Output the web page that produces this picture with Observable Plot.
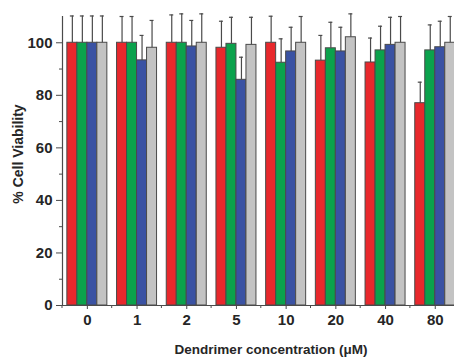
<!DOCTYPE html>
<html>
<head>
<meta charset="utf-8">
<script src="https://cdn.jsdelivr.net/npm/d3@7"></script>
<script src="https://cdn.jsdelivr.net/npm/@observablehq/plot@0.6"></script>
<style>
  html, body { margin: 0; padding: 0; background: white; }
</style>
</head>
<body>
<div id="chart"></div>
<script>
const groups = ["0", "1", "2", "5", "10", "20", "40", "80"];
const series = ["A", "B", "C", "D"];
const colors = ["#e8282c", "#0ba24c", "#3a52a3", "#c3c3c3"];

const valuesA = [100, 100, 100, 98.1, 100, 93.2, 92.5, 77.0];
const valuesB = [100, 100, 100, 99.6, 92.4, 97.9, 97.1, 97.1];
const valuesC = [100, 93.3, 98.6, 85.9, 96.7, 96.7, 99.2, 98.3];
const valuesD = [100, 98.1, 100, 99.2, 100, 102.1, 100, 100];

const errA = [10.2, 10.0, 10.6, 10.1, 10.1, 9.6, 9.3, 8.0];
const errB = [10.2, 10.0, 11.0, 10.1, 9.1, 9.9, 9.2, 9.7];
const errC = [10.2, 9.5, 9.9, 8.6, 9.2, 9.2, 10.5, 9.9];
const errD = [10.2, 10.4, 11.0, 10.5, 10.0, 8.9, 10.0, 10.0];

const yMajor = [0, 20, 40, 60, 80, 100];
const yMinor = [10, 30, 50, 70, 90];

const xTitle = "Dendrimer concentration (μM)";
const yTitle = "% Cell Viability";

const allValues = [valuesA, valuesB, valuesC, valuesD];
const allErr = [errA, errB, errC, errD];
const rows = [];
groups.forEach((g, gi) => {
  series.forEach((s, si) => {
    rows.push({group: g, series: s, value: allValues[si][gi], err: allErr[si][gi]});
  });
});

const ink = "#4a4a4a";

const minorXTick = (index, scales, values, dimensions) => {
  const y0 = scales.y(0);
  const line = d3.create("svg:line")
    .attr("x1", dimensions.marginLeft)
    .attr("x2", dimensions.marginLeft)
    .attr("y1", y0)
    .attr("y2", y0 + 3)
    .attr("stroke", ink);
  return line.node();
};

const plot = Plot.plot({
  width: 454,
  height: 358,
  marginLeft: 62,
  marginRight: 0,
  marginTop: 16,
  marginBottom: 53,
  style: {
    fontFamily: "'Liberation Sans', Arial, sans-serif",
    fontSize: "15px",
    fontWeight: "bold",
    color: "#262626",
    background: "white"
  },
  fx: {domain: groups, padding: 0, round: false, range: [62, 459.6], label: null},
  x: {domain: series, paddingInner: 0, paddingOuter: 0.485, round: false, axis: null},
  y: {domain: [0, 110], axis: null},
  color: {domain: series, range: colors},
  marks: [
    Plot.barY(rows, {fx: "group", x: "series", y: "value", fill: "series", stroke: ink, strokeWidth: 1}),
    Plot.ruleX(rows, {fx: "group", x: "series", y1: "value", y2: d => d.value + d.err, stroke: ink, strokeWidth: 1.2}),
    Plot.tickY(rows, {fx: "group", x: "series", y: d => d.value + d.err, stroke: ink, strokeWidth: 1.2, insetLeft: 3, insetRight: 3}),
    Plot.ruleY([0], {stroke: ink, strokeWidth: 1.2}),
    minorXTick,
    Plot.frame({anchor: "left", facetAnchor: "left", stroke: ink, strokeWidth: 1.2}),
    Plot.axisY(yMajor, {tickSize: 6, tickPadding: 4, label: null, stroke: ink}),
    Plot.axisY(yMinor, {tickSize: 3, tickFormat: () => "", label: null, stroke: ink}),
    Plot.axisFx({anchor: "bottom", tickSize: 4, tickPadding: 5, label: null, stroke: ink})
  ]
});

const svg = d3.select(plot);
svg.append("text")
  .attr("transform", "translate(18,154) rotate(-90)")
  .attr("text-anchor", "middle")
  .attr("dy", "0.35em")
  .attr("fill", "#262626")
  .style("font-size", "14px")
  .style("font-weight", "bold")
  .text(yTitle);
svg.append("text")
  .attr("x", 271)
  .attr("y", 349)
  .attr("text-anchor", "middle")
  .attr("dy", "0.35em")
  .attr("fill", "#262626")
  .style("font-size", "13.5px")
  .style("font-weight", "bold")
  .text(xTitle);

document.getElementById("chart").appendChild(plot);
</script>
</body>
</html>
